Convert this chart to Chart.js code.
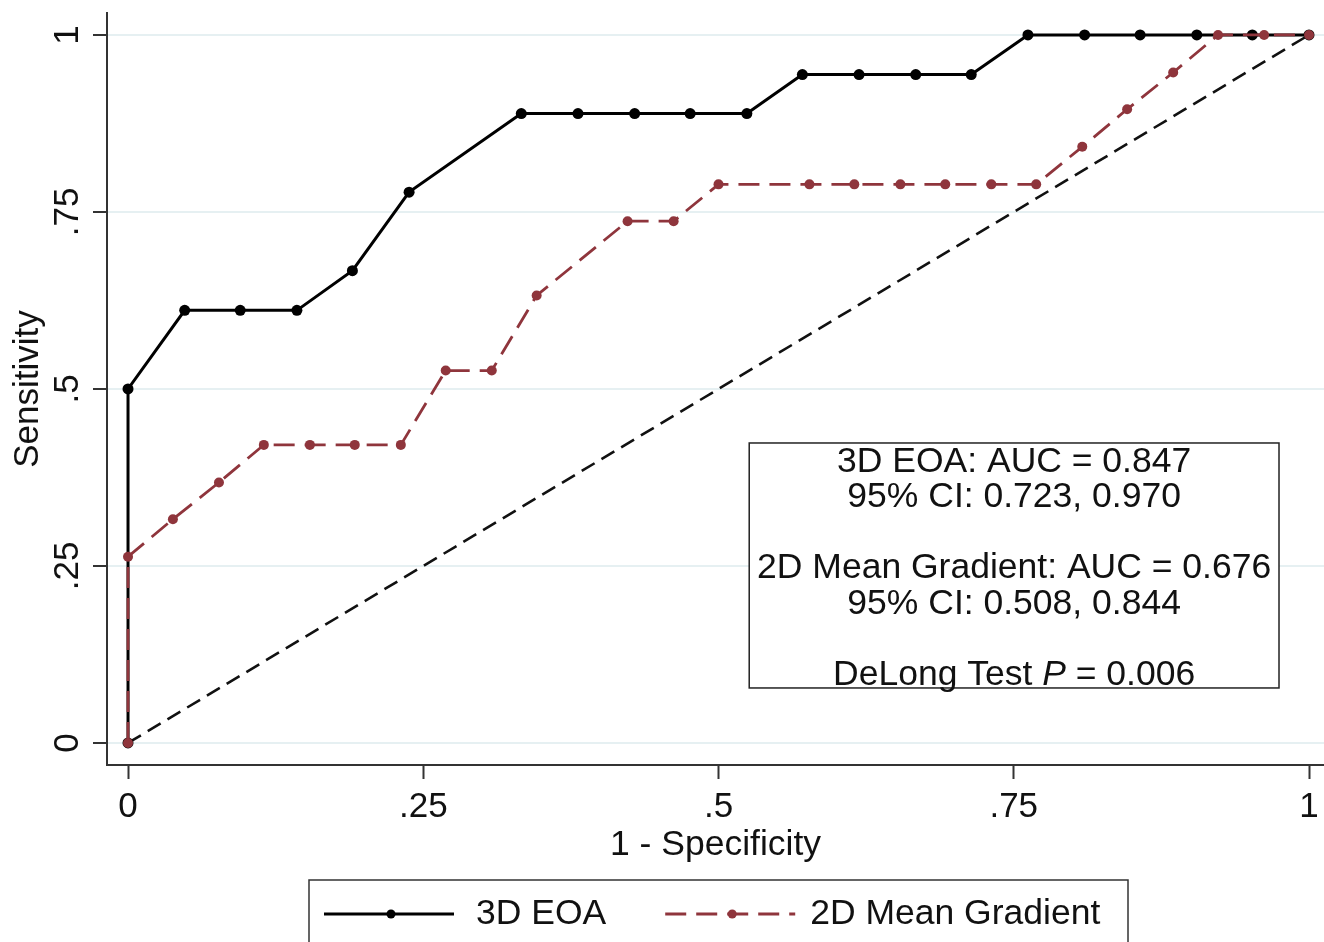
<!DOCTYPE html>
<html>
<head>
<meta charset="utf-8">
<script src="https://cdn.jsdelivr.net/npm/chart.js@4.4.1/dist/chart.umd.min.js"></script>
<style>
  html, body { margin: 0; padding: 0; background: #fff; overflow: hidden; }
  #wrap { position: relative; width: 1324px; height: 942px; }
</style>
</head>
<body>
<div id="wrap"><canvas id="roc"></canvas></div>
<script>
// ROC points
const fpr3D = [0, 0, 0.048, 0.095, 0.143, 0.190, 0.238, 0.333, 0.381, 0.429, 0.476, 0.524, 0.571, 0.619, 0.667, 0.714, 0.762, 0.810, 0.857, 0.905, 0.952, 1];
const sens3D = [0, 0.5, 0.611, 0.611, 0.611, 0.667, 0.778, 0.889, 0.889, 0.889, 0.889, 0.889, 0.944, 0.944, 0.944, 0.944, 1, 1, 1, 1, 1, 1];

const fpr2D = [0, 0, 0.038, 0.077, 0.115, 0.154, 0.192, 0.231, 0.269, 0.308, 0.346, 0.423, 0.462, 0.5, 0.577, 0.615, 0.654, 0.692, 0.731, 0.769, 0.808, 0.846, 0.885, 0.923, 0.962, 1];
const sens2D = [0, 0.263, 0.316, 0.368, 0.421, 0.421, 0.421, 0.421, 0.526, 0.526, 0.632, 0.737, 0.737, 0.789, 0.789, 0.789, 0.789, 0.789, 0.789, 0.789, 0.842, 0.895, 0.947, 1, 1, 1];

const refX = [0, 1];
const refY = [0, 1];

const seriesNames = ["3D EOA", "2D Mean Gradient"];

const tickValues = [0, 0.25, 0.5, 0.75, 1];
const tickLabels = ["0", ".25", ".5", ".75", "1"];

const statsLines = [
  "3D EOA: AUC = 0.847",
  "95% CI: 0.723, 0.970",
  "",
  "2D Mean Gradient: AUC = 0.676",
  "95% CI: 0.508, 0.844",
  "",
  "DeLong Test |P| = 0.006",
];

const FONT = "'Liberation Sans', Arial, sans-serif";
const RED = "#8f353c";

const toPts = (xs, ys) => xs.map((x, i) => ({ x: x, y: ys[i] }));

// white stats box + its text, placed in data coordinates
const statsBox = {
  id: "statsBox",
  beforeDatasetsDraw(chart) {
    const { ctx, scales: { x, y } } = chart;
    const left = x.getPixelForValue(0.526);
    const right = x.getPixelForValue(0.9746);
    const top = y.getPixelForValue(0.4237);
    const bottom = y.getPixelForValue(0.0777);
    ctx.save();
    ctx.fillStyle = "#fff";
    ctx.fillRect(left, top, right - left, bottom - top);
    ctx.strokeStyle = "#222";
    ctx.lineWidth = 1.5;
    ctx.strokeRect(left, top, right - left, bottom - top);

    const cx = (left + right) / 2;
    ctx.fillStyle = "#111";
    ctx.textBaseline = "middle";
    statsLines.forEach((line, i) => {
      const ly = top + 19 + i * 35.5;
      if (!line) return;
      // segments between | | are italic
      const parts = line.split("|");
      const fonts = parts.map((p, j) => (j % 2 ? "italic " : "") + "35.5px " + FONT);
      let total = 0;
      const widths = parts.map((p, j) => {
        ctx.font = fonts[j];
        const w = ctx.measureText(p).width;
        total += w;
        return w;
      });
      let px = cx - total / 2;
      ctx.textAlign = "left";
      parts.forEach((p, j) => {
        ctx.font = fonts[j];
        ctx.fillText(p, px, ly);
        px += widths[j];
      });
    });
    ctx.restore();
  },
};

// rotated y tick labels (Stata style) and the boxed legend
const extras = {
  id: "extras",
  afterDraw(chart) {
    const { ctx, chartArea, scales: { x, y } } = chart;
    ctx.save();
    ctx.fillStyle = "#111";
    ctx.font = "35px " + FONT;
    ctx.textAlign = "center";
    ctx.textBaseline = "alphabetic";
    tickValues.forEach((v, i) => {
      ctx.save();
      ctx.translate(chartArea.left - 29, y.getPixelForValue(v));
      ctx.rotate(-Math.PI / 2);
      ctx.fillText(tickLabels[i], 0, 0);
      ctx.restore();
    });

    // legend
    const boxW = 819;
    const boxL = (chartArea.left + chartArea.right) / 2 - boxW / 2 + 3;
    const boxT = x.bottom + 17.5;
    ctx.strokeStyle = "#333";
    ctx.lineWidth = 1.5;
    ctx.strokeRect(boxL, boxT, boxW, 80);

    const cy = boxT + 34;
    const sets = [chart.data.datasets[1], chart.data.datasets[0]];
    let px = boxL + 15;
    ctx.font = "35.5px " + FONT;
    sets.forEach((ds, i) => {
      const len = 130;
      ctx.save();
      ctx.strokeStyle = ds.borderColor;
      ctx.lineWidth = ds.borderWidth;
      ctx.setLineDash(ds.borderDash || []);
      ctx.beginPath();
      ctx.moveTo(px, cy);
      ctx.lineTo(px + len, cy);
      ctx.stroke();
      ctx.setLineDash([]);
      ctx.fillStyle = ds.pointBackgroundColor;
      ctx.beginPath();
      ctx.arc(px + len / 2 + 2, cy, 4.5, 0, Math.PI * 2);
      ctx.fill();
      ctx.restore();
      const tx = px + len + (i === 0 ? 22 : 15);
      ctx.fillStyle = "#111";
      ctx.textAlign = "left";
      ctx.textBaseline = "middle";
      ctx.fillText(ds.label, tx, cy);
      px = tx + ctx.measureText(ds.label).width + 59;
    });
    ctx.restore();
  },
};

new Chart(document.getElementById("roc"), {
  type: "line",
  data: {
    datasets: [
      {
        label: seriesNames[1],
        data: toPts(fpr2D, sens2D),
        borderColor: RED,
        backgroundColor: RED,
        pointBackgroundColor: RED,
        pointBorderColor: RED,
        borderWidth: 2.8,
        borderDash: [21, 10],
        pointRadius: 5,
        pointBorderWidth: 0,
        tension: 0,
        order: 0,
      },
      {
        label: seriesNames[0],
        data: toPts(fpr3D, sens3D),
        borderColor: "#000",
        backgroundColor: "#000",
        pointBackgroundColor: "#000",
        pointBorderColor: "#000",
        borderWidth: 3,
        pointRadius: 5.5,
        pointBorderWidth: 0,
        tension: 0,
        order: 1,
      },
      {
        label: "reference",
        data: toPts(refX, refY),
        borderColor: "#111",
        borderWidth: 2.6,
        borderDash: [15, 8],
        pointRadius: 0,
        order: 2,
      },
    ],
  },
  options: {
    responsive: true,
    maintainAspectRatio: false,
    animation: false,
    layout: { autoPadding: false, padding: { top: 13, bottom: 79.5, left: 0, right: 0 } },
    plugins: {
      legend: { display: false },
      tooltip: { enabled: false },
    },
    scales: {
      x: {
        type: "linear",
        min: -0.0178,
        max: 1.0127,
        afterBuildTicks: (scale) => {
          scale.ticks = tickValues.map((v) => ({ value: v }));
        },
        grid: {
          drawOnChartArea: false,
          drawTicks: true,
          tickLength: 14,
          tickColor: "#333",
          tickWidth: 2,
        },
        border: { display: true, color: "#333", width: 2 },
        ticks: {
          padding: 0,
          color: "#111",
          font: { family: FONT, size: 35, lineHeight: 1.6 },
          maxRotation: 0,
          callback: (v) => tickLabels[tickValues.indexOf(v)],
        },
        title: {
          display: true,
          text: "1 - Specificity",
          color: "#111",
          font: { family: FONT, size: 35.5, lineHeight: 1.0 },
          padding: { top: -8, bottom: 0 },
        },
      },
      y: {
        type: "linear",
        min: -0.0311,
        max: 1.031,
        afterBuildTicks: (scale) => {
          scale.ticks = tickValues.map((v) => ({ value: v }));
        },
        grid: {
          color: "#e6f0f2",
          lineWidth: 2,
          drawTicks: true,
          tickLength: 14,
          tickColor: "#333",
          tickWidth: 2,
        },
        border: { display: true, color: "#333", width: 2 },
        ticks: { display: false },
        title: {
          display: true,
          text: "Sensitivity",
          color: "#111",
          font: { family: FONT, size: 35, lineHeight: 1.0 },
          padding: { top: 11, bottom: 47 },
        },
      },
    },
  },
  plugins: [statsBox, extras],
});
</script>
</body>
</html>
